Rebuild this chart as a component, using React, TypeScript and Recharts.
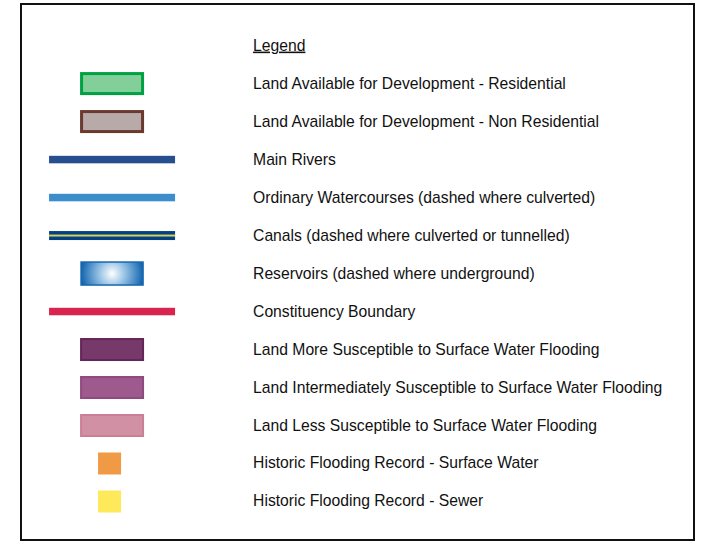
import { ScatterChart, Scatter, XAxis, YAxis } from "recharts";

const labels = [
  "Legend",
  "Land Available for Development - Residential",
  "Land Available for Development - Non Residential",
  "Main Rivers",
  "Ordinary Watercourses (dashed where culverted)",
  "Canals (dashed where culverted or tunnelled)",
  "Reservoirs (dashed where underground)",
  "Constituency Boundary",
  "Land More Susceptible to Surface Water Flooding",
  "Land Intermediately Susceptible to Surface Water Flooding",
  "Land Less Susceptible to Surface Water Flooding",
  "Historic Flooding Record - Surface Water",
  "Historic Flooding Record - Sewer",
];

const symbolKinds = [
  "title",
  "box",
  "box",
  "line",
  "line",
  "canal",
  "reservoir",
  "line",
  "box",
  "box",
  "box",
  "square",
  "square",
];

const rows = labels.map((label, i) => ({ col: 1, row: i, label, kind: symbolKinds[i] }));

// fill / stroke per row
const SYMBOL_STYLES: Record<number, { fill: string; stroke?: string; sw?: number }> = {
  1: { fill: "#82cf9a", stroke: "#00a142", sw: 3 },
  2: { fill: "#b7aaa8", stroke: "#6b392d", sw: 3 },
  3: { fill: "#274f8f" },
  4: { fill: "#3b8dcb" },
  5: { fill: "#083f83", stroke: "#c9d65c" },
  6: { fill: "#ffffff", stroke: "#1668b1", sw: 1.5 },
  7: { fill: "#d8244f" },
  8: { fill: "#76396a", stroke: "#64265a", sw: 2 },
  9: { fill: "#9e5a8c", stroke: "#8f4a80", sw: 2 },
  10: { fill: "#d190a3", stroke: "#c98097", sw: 2 },
  11: { fill: "#f19a46" },
  12: { fill: "#fde959" },
};

const FONT = "'Liberation Sans', Arial, Helvetica, sans-serif";

function LegendRow(props: any) {
  const { cx, cy, payload } = props;
  const i = payload.row;
  const st = SYMBOL_STYLES[i];
  const sy = cy;
  let symbol = null;

  if (payload.kind === "box") {
    const w = 64, h = 23, sw = st.sw ?? 2;
    symbol = (
      <rect x={cx - w / 2 + sw / 2} y={sy - h / 2 + sw / 2} width={w - sw} height={h - sw}
        fill={st.fill} stroke={st.stroke} strokeWidth={sw} />
    );
  } else if (payload.kind === "line") {
    symbol = <rect x={cx - 63} y={sy - 3.75} width={126} height={7.5} fill={st.fill} />;
  } else if (payload.kind === "canal") {
    symbol = (
      <g>
        <rect x={cx - 63} y={sy - 4.5} width={126} height={9} fill={st.fill} />
        <rect x={cx - 63} y={sy - 1} width={126} height={2} fill={st.stroke} />
      </g>
    );
  } else if (payload.kind === "reservoir") {
    symbol = (
      <g>
        <defs>
          <radialGradient id="resGrad" cx="50%" cy="50%" r="50%" fx="50%" fy="50%"
            gradientTransform="translate(0.5 0.5) scale(1 2.7) translate(-0.5 -0.5)">
            <stop offset="0%" stopColor="#ffffff" />
            <stop offset="45%" stopColor="#8fbde2" />
            <stop offset="100%" stopColor="#1466b0" />
          </radialGradient>
        </defs>
        <rect x={cx - 31} y={sy - 11.5} width={62} height={23} fill="url(#resGrad)"
          stroke={st.stroke} strokeWidth={st.sw} />
      </g>
    );
  } else if (payload.kind === "square") {
    symbol = <rect x={cx - 14} y={sy - 11} width={23} height={22} fill={st.fill} />;
  }

  return (
    <g>
      {symbol}
      <text x={cx + 141} y={cy + 5} fontFamily={FONT} fontSize={15.7} fill="#111"
        textDecoration={payload.kind === "title" ? "underline" : undefined}>
        {payload.label}
      </text>
    </g>
  );
}

export default function App() {
  return (
    <div style={{ position: "absolute", left: 0, top: 0, width: 706, height: 541, background: "#fff" }}>
      <div style={{
        position: "absolute", left: 20, top: 3, width: 675, height: 538,
        border: "2px solid #111", boxSizing: "border-box",
      }} />
      <div style={{ position: "absolute", left: 0, top: 0 }}>
        <ScatterChart width={706} height={541} margin={{ top: 0, right: 0, bottom: 0, left: 0 }}>
          <XAxis type="number" dataKey="col" domain={[0, 6.3]} allowDataOverflow hide />
          <YAxis type="number" dataKey="row" domain={[-1.2, 13.04]} allowDataOverflow reversed hide />
          <Scatter data={rows} isAnimationActive={false} shape={LegendRow} />
        </ScatterChart>
      </div>
    </div>
  );
}
